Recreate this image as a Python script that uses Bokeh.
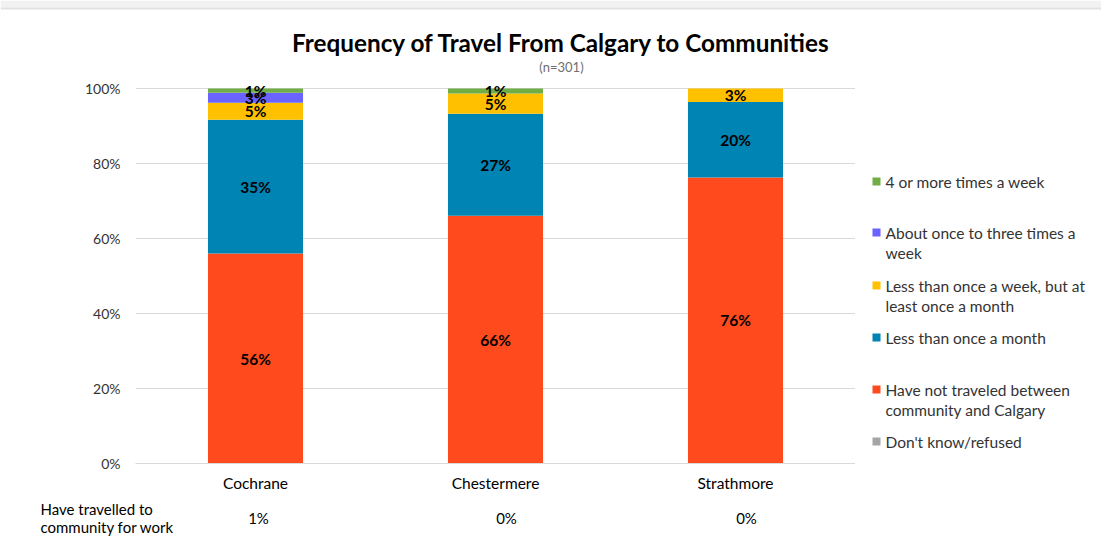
from bokeh.plotting import figure
from bokeh.layouts import column, row
from bokeh.models import ColumnDataSource, Range1d, FactorRange, FixedTicker
from bokeh.core.properties import value
from bokeh.embed import file_html
from bokeh.resources import INLINE

communities = ["Cochrane", "Chestermere", "Strathmore"]
dont_know = [0.0, 0.0, 0.0]
not_traveled = [56.0, 66.1, 76.3]
less_month = [35.7, 27.2, 20.1]
less_week = [4.5, 5.4, 3.6]
one_to_three = [2.7, 0.0, 0.0]
four_plus = [1.1, 1.3, 0.0]
label_texts = {
    "not_traveled": ["56%", "66%", "76%"],
    "less_month": ["35%", "27%", "20%"],
    "less_week": ["5%", "5%", "3%"],
    "one_to_three": ["3%", "", ""],
    "four_plus": ["1%", "1%", ""],
}
work_label = ["Have travelled to", "community for work"]
work_pct = ["1%", "0%", "0%"]
legend_labels = [["4 or more times a week"],
                 ["About once to three times a", "week"],
                 ["Less than once a week, but at", "least once a month"],
                 ["Less than once a month"],
                 ["Have not traveled between", "community and Calgary"],
                 ["Don't know/refused"]]
title_text = "Frequency of Travel From Calgary to Communities"
subtitle_text = "(n=301)"
y_ticks = [0, 20, 40, 60, 80, 100]

colors = {"dont_know": "#A5A5A5", "not_traveled": "#FF4A1E", "less_month": "#0084B4",
          "less_week": "#FFC000", "one_to_three": "#6B63FF", "four_plus": "#70AD47"}
keys = ["dont_know", "not_traveled", "less_month", "less_week", "one_to_three", "four_plus"]

data = {"x": communities, "dont_know": dont_know, "not_traveled": not_traveled,
        "less_month": less_month, "less_week": less_week,
        "one_to_three": one_to_three, "four_plus": four_plus}
src = ColumnDataSource(data)

FONT = "Lato"
W, H = 1101, 544
FL, FRAME_R = 135, 855          # frame left / right (page px)
TOP_H = 74                      # height of title strip
Y0_PX = 463                     # page px of 0%
PX_PER_PCT = 3.75
MAIN_BOTTOM = 33
MAIN_H = (Y0_PX - TOP_H) + MAIN_BOTTOM
TABLE_H = H - TOP_H - MAIN_H
LEG_W = W - FRAME_R
TXT = "#333333"


def text_fig(w, h, y_top_page, y_bottom_page=None, min_bottom=0):
    yb = y_top_page + h if y_bottom_page is None else y_bottom_page
    f = figure(width=w, height=h, output_backend="svg", toolbar_location=None,
               x_axis_location=None, y_axis_location=None, min_border=0,
               x_range=Range1d(0, w), y_range=Range1d(yb, y_top_page))
    f.min_border_bottom = min_bottom
    f.grid.visible = False
    f.outline_line_color = None
    f.background_fill_color = "white"
    f.border_fill_color = "white"
    return f


# ---- title strip ----
t = text_fig(W, TOP_H, 0)
t.quad(left=[0], right=[W], top=[0], bottom=[7], color="#F2F2F2", line_color=None)
t.segment(x0=[0], y0=[8], x1=[W], y1=[8], line_color="#E2E2E2", line_width=2)
t.text(x=[561], y=[42], text=[title_text], text_align="center", text_baseline="middle",
       text_font=value(FONT), text_font_style="bold", text_font_size="24.3px", text_color="black")
t.text(x=[561], y=[66], text=[subtitle_text], text_align="center", text_baseline="middle",
       text_font=value(FONT), text_font_size="13px", text_color="#6F6F6F")

# ---- main chart ----
y_end = (Y0_PX - TOP_H) / PX_PER_PCT
p = figure(x_range=FactorRange(*communities, range_padding=0), y_range=Range1d(0, y_end),
           width=FRAME_R, height=MAIN_H, output_backend="svg", toolbar_location=None,
           min_border_left=FL, min_border_right=0, min_border_top=0, min_border_bottom=MAIN_BOTTOM)
p.outline_line_color = None
p.background_fill_color = "white"
p.border_fill_color = "white"

p.vbar_stack(keys, x="x", width=0.396, source=src, color=[colors[k] for k in keys], line_color=None)

lx, ly, lt = [], [], []
for i, c in enumerate(communities):
    base = 0.0
    for k in keys:
        v = data[k][i]
        if k in label_texts and label_texts[k][i]:
            lx.append(c)
            ly.append(base + v / 2)
            lt.append(label_texts[k][i])
        base += v
p.text(x=lx, y=ly, text=lt, text_align="center", text_baseline="middle",
       text_font=value(FONT), text_font_style="bold", text_font_size="15.5px", text_color="black")

p.yaxis.ticker = FixedTicker(ticks=y_ticks)
p.yaxis.major_label_overrides = {t_: f"{t_}%" for t_ in y_ticks}
p.yaxis.axis_line_color = None
p.yaxis.major_tick_line_color = None
p.yaxis.minor_tick_line_color = None
p.yaxis.major_label_standoff = 9
p.yaxis.major_label_text_font = FONT
p.yaxis.major_label_text_font_size = "14px"
p.yaxis.major_label_text_color = TXT

p.xaxis.axis_line_color = "#D9D9D9"
p.xaxis.major_tick_line_color = None
p.xaxis.major_tick_out = 0
p.xaxis.major_tick_in = 0
p.xaxis.major_label_standoff = 10
p.xaxis.major_label_text_font = FONT
p.xaxis.major_label_text_font_size = "15.5px"
p.xaxis.major_label_text_color = "black"

p.xgrid.grid_line_color = None
p.ygrid.grid_line_color = "#D9D9D9"

# ---- legend ----
lg = text_fig(LEG_W, MAIN_H, TOP_H, y_bottom_page=Y0_PX, min_bottom=MAIN_BOTTOM)
lg.x_range = Range1d(FRAME_R, W)
leg_keys = ["four_plus", "one_to_three", "less_week", "less_month", "not_traveled", "dont_know"]
leg_y = [181, 232, 285, 337, 389, 441]
lg.rect(x=[876] * 6, y=leg_y, width=8, height=8, color=[colors[k] for k in leg_keys], line_color=None)
tx, ty, tt = [], [], []
for y0, lines in zip(leg_y, legend_labels):
    for j, line in enumerate(lines):
        tx.append(885)
        ty.append(y0 + 20 * j)
        tt.append(line)
lg.text(x=tx, y=ty, text=tt, text_align="left", text_baseline="middle",
        text_font=value(FONT), text_font_size="15.5px", text_color=TXT)

# ---- table below ----
tb = text_fig(W, TABLE_H, TOP_H + MAIN_H)
tb.text(x=[40, 40], y=[508, 526], text=work_label, text_align="left", text_baseline="middle",
        text_font=value(FONT), text_font_size="15px", text_color="black")
band = (FRAME_R - FL) / len(communities)
cell_shift = [3, 11, 11]
tb.text(x=[FL + (i + 0.5) * band + cell_shift[i] for i in range(len(communities))],
        y=[517] * len(communities),
        text=work_pct, text_align="center", text_baseline="middle",
        text_font=value(FONT), text_font_size="15px", text_color="black")

layout = column(t, row(p, lg), tb)
open("out.html", "w").write(file_html(layout, INLINE))
